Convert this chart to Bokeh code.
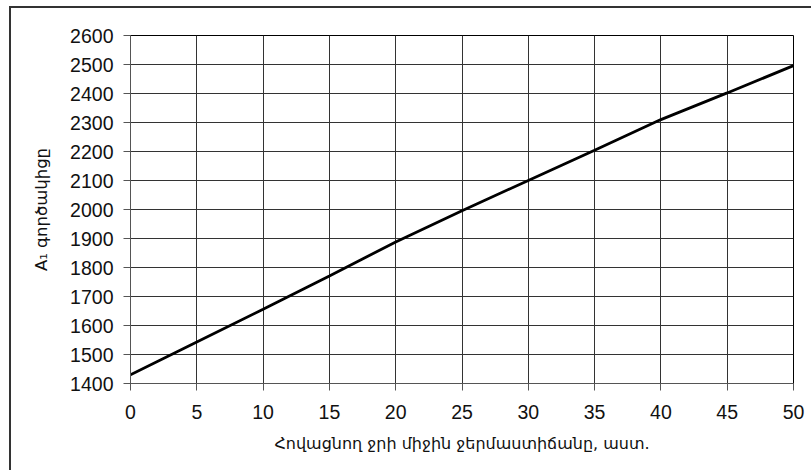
from bokeh.plotting import figure
from bokeh.models import Range1d, FixedTicker
from bokeh.embed import file_html
from bokeh.resources import INLINE

# data
temperature = [0, 5, 10, 15, 20, 25, 30, 35, 40, 45, 50]
coefficient = [1430, 1543, 1656, 1771, 1888, 1996, 2100, 2204, 2310, 2402, 2496]
x_ticks = [0, 5, 10, 15, 20, 25, 30, 35, 40, 45, 50]
y_ticks = [1400, 1500, 1600, 1700, 1800, 1900, 2000, 2100, 2200, 2300, 2400, 2500, 2600]
x_title = "Հովացնող ջրի միջին ջերմաստիճանը, աստ."
y_title = "A₁ գործակիցը"

p = figure(width=811, height=470, output_backend="svg", toolbar_location=None,
           x_range=Range1d(0, 50), y_range=Range1d(1400, 2600),
           min_border_left=130, min_border_right=18, min_border_top=35, min_border_bottom=87)

p.border_fill_color = None
p.background_fill_color = "white"
p.outline_line_color = "#000000"
p.outline_line_width = 1
p.styles = {
    "background": ("linear-gradient(#333333, #333333) 9px 6px / 2px 100% no-repeat, "
                   "linear-gradient(#333333, #333333) 9px 6px / 100% 2px no-repeat, white"),
}

p.line(temperature, coefficient, line_color="black", line_width=2.8)

for ax, ticks in ((p.xaxis, x_ticks), (p.yaxis, y_ticks)):
    ax.ticker = FixedTicker(ticks=ticks)
    ax.minor_tick_line_color = None
    ax.major_tick_in = 0
    ax.major_tick_out = 7
    ax.major_tick_line_color = "#555555"
    ax.axis_line_color = "#555555"
    ax.major_label_text_font = "Liberation Sans"
    ax.major_label_text_font_size = "19.5px"
    ax.major_label_text_color = "#111111"
    ax.axis_label_text_font = "DejaVu Sans"
    ax.axis_label_text_font_style = "normal"
    ax.axis_label_text_color = "#111111"

p.xaxis.axis_label = x_title
p.yaxis.axis_label = y_title
p.xaxis.axis_label_text_font_size = "16px"
p.yaxis.axis_label_text_font_size = "16.5px"
p.xaxis.major_label_standoff = 14
p.yaxis.major_label_standoff = 10
p.xaxis.axis_label_standoff = 12
p.yaxis.axis_label_standoff = 16

for g in (p.xgrid, p.ygrid):
    g.grid_line_color = "#333333"
    g.grid_line_width = 1
p.xgrid.ticker = FixedTicker(ticks=x_ticks)
p.ygrid.ticker = FixedTicker(ticks=y_ticks)

open("out.html", "w").write(file_html(p, INLINE))
